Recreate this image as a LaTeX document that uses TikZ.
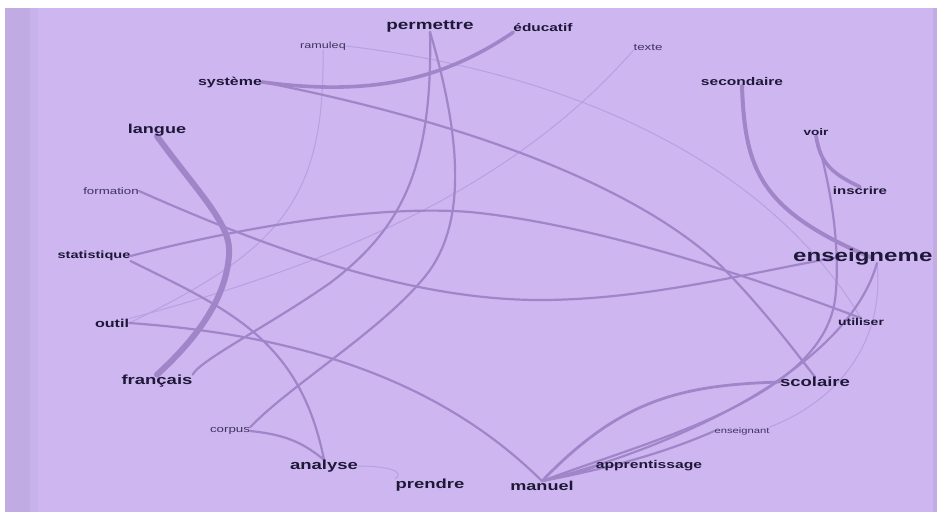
\documentclass[tikz,border=0pt]{standalone}
\usepackage{fontspec}
\usepackage{graphicx}
\setmainfont{Liberation Sans}
\definecolor{bgmain}{RGB}{206,182,241}
\definecolor{bgleft}{RGB}{192,172,227}
\definecolor{bgstripe}{RGB}{200,178,236}
\definecolor{bgright}{RGB}{195,172,230}
\definecolor{edgec}{RGB}{160,134,200}
\definecolor{faintc}{RGB}{184,160,226}
\definecolor{txt}{RGB}{30,24,56}
\definecolor{txtsmall}{RGB}{62,52,92}
\newcommand\wide[1]{\scalebox{1.4}[1]{#1}}
\newcommand\fs[1]{\fontsize{#1}{#1}\selectfont}
\pgfdeclarelayer{bglayer}
\pgfdeclarelayer{edgelayer}
\pgfsetlayers{bglayer,edgelayer,main}
\tikzset{
  lab/.style={text=txt, inner sep=0pt, font=\bfseries},
  slab/.style={text=txtsmall, inner sep=0pt},
  ed/.style={draw=edgec, line width=2.2pt, line cap=round},
  faint/.style={draw=faintc, line width=1pt, line cap=round},
}
\begin{document}
\begin{tikzpicture}[x=1pt,y=-1pt]
\useasboundingbox (0,0) rectangle (939,512);
\begin{pgfonlayer}{bglayer}
  \fill[white] (0,0) rectangle (939,512);
  \fill[bgmain] (5,8) rectangle (935,512);
  \fill[bgleft] (5,8) rectangle (30,512);
  \fill[bgstripe] (30,8) rectangle (38,512);
  \fill[bgright] (933,8) rectangle (937,512);
\end{pgfonlayer}
% labels
\node[lab, font=\bfseries\fs{13.5}] (permettre) at (430,26) {\wide{permettre}};
\node[lab, font=\bfseries\fs{11}] (educatif) at (543,28) {\wide{éducatif}};
\node[slab, font=\fs{9}] (ramuleq) at (323,46) {\wide{ramuleq}};
\node[slab, font=\fs{9.5}] (texte) at (648,47) {\wide{texte}};
\node[lab, font=\bfseries\fs{11.4}] (systeme) at (230,82) {\wide{système}};
\node[lab, font=\bfseries\fs{11.1}] (secondaire) at (742,82) {\wide{secondaire}};
\node[lab, font=\bfseries\fs{12.9}] (langue) at (157,130) {\wide{langue}};
\node[lab, font=\bfseries\fs{9.7}] (voir) at (816,132) {\wide{voir}};
\node[slab, font=\fs{9.5}] (formation) at (111,191) {\wide{formation}};
\node[lab, font=\bfseries\fs{10.7}] (inscrire) at (860,191) {\wide{inscrire}};
\node[lab, font=\bfseries\fs{10.4}] (statistique) at (94,256) {\wide{statistique}};
\node[lab, font=\bfseries\fs{17.2}, anchor=west] (enseignement) at (793,257) {\wide{enseigneme}};
\node[lab, font=\bfseries\fs{11.5}] (outil) at (112,323) {\wide{outil}};
\node[lab, font=\bfseries\fs{10}] (utiliser) at (861,322) {\wide{utiliser}};
\node[lab, font=\bfseries\fs{13.2}] (francais) at (157,381) {\wide{français}};
\node[lab, font=\bfseries\fs{13.2}] (scolaire) at (815,382) {\wide{scolaire}};
\node[slab, font=\fs{9.5}] (corpus) at (230,431) {\wide{corpus}};
\node[slab, font=\fs{8}] (enseignant) at (742,431) {\wide{enseignant}};
\node[lab, font=\bfseries\fs{13.2}] (analyse) at (324,466) {\wide{analyse}};
\node[lab, font=\bfseries\fs{11.2}] (apprentissage) at (649,466) {\wide{apprentissage}};
\node[lab, font=\bfseries\fs{13.2}] (prendre) at (430,485) {\wide{prendre}};
\node[lab, font=\bfseries\fs{12.9}] (manuel) at (542,486) {\wide{manuel}};
\begin{pgfonlayer}{edgelayer}
% faint edges
\draw[faint] (ramuleq.south) .. controls (325,200) and (280,250) .. (outil.east);
\draw[faint] (texte.south west) .. controls (520,180) and (350,260) .. (outil.north east);
\draw[faint] (ramuleq.east) .. controls (550,70) and (760,150) .. (utiliser.north);
\draw[faint] (analyse.east) .. controls (390,466) and (405,472) .. (prendre.north west);
\draw[faint] ([xshift=84pt,yshift=-6pt]enseignement.west) .. controls (885,340) and (840,400) .. (enseignant.north east);
% thick edges
\draw[ed, line width=6pt] (langue.south) .. controls (200,195) and (232,225) .. (229,255) .. controls (226,300) and (195,340) .. (francais.north);
\draw[ed, line width=3.6pt] (systeme.east) .. controls (380,98) and (450,75) .. (educatif.south west);
\draw[ed, line width=4pt] (secondaire.south) .. controls (745,170) and (760,210) .. ([xshift=77pt]enseignement.west);
\draw[ed, line width=3.6pt] (voir.south) .. controls (820,165) and (835,175) .. (inscrire.north);
% normal edges
\draw[ed] (systeme.east) .. controls (480,125) and (640,190) .. (720,265) .. controls (760,305) and (790,345) .. (scolaire.north);
\draw[ed] (permettre.south) .. controls (433,170) and (400,230) .. (330,283) .. controls (270,325) and (200,360) .. (francais.north east);
\draw[ed] (permettre.south) .. controls (462,140) and (465,220) .. (430,270) .. controls (390,325) and (290,385) .. (corpus.north east);
\draw[ed] (statistique.east) .. controls (250,225) and (380,205) .. (470,212) .. controls (600,225) and (760,280) .. (utiliser.north);
\draw[ed] (formation.east) .. controls (250,240) and (400,300) .. (540,300) .. controls (650,300) and (760,270) .. ([xshift=47pt]enseignement.west);
\draw[ed] (statistique.south east) .. controls (230,310) and (300,340) .. (analyse.north);
\draw[ed] (outil.east) .. controls (300,335) and (440,380) .. (manuel.north);
\draw[ed] (corpus.east) .. controls (290,435) and (305,445) .. (analyse.north);
\draw[ed] (voir.south) .. controls (835,200) and (840,260) .. (835,300) .. controls (820,400) and (650,440) .. (manuel.north);
\draw[ed, line width=2.8pt] (scolaire.west) .. controls (680,385) and (620,400) .. (manuel.north);
\draw[ed] ([xshift=84pt,yshift=-6pt]enseignement.west) .. controls (850,360) and (700,440) .. (manuel.north);
\draw[ed] (enseignant.west) .. controls (660,455) and (600,470) .. (manuel.north);
\draw[ed] (apprentissage.west) .. controls (590,470) and (570,474) .. (manuel.north);
\end{pgfonlayer}
\end{tikzpicture}
\end{document}
